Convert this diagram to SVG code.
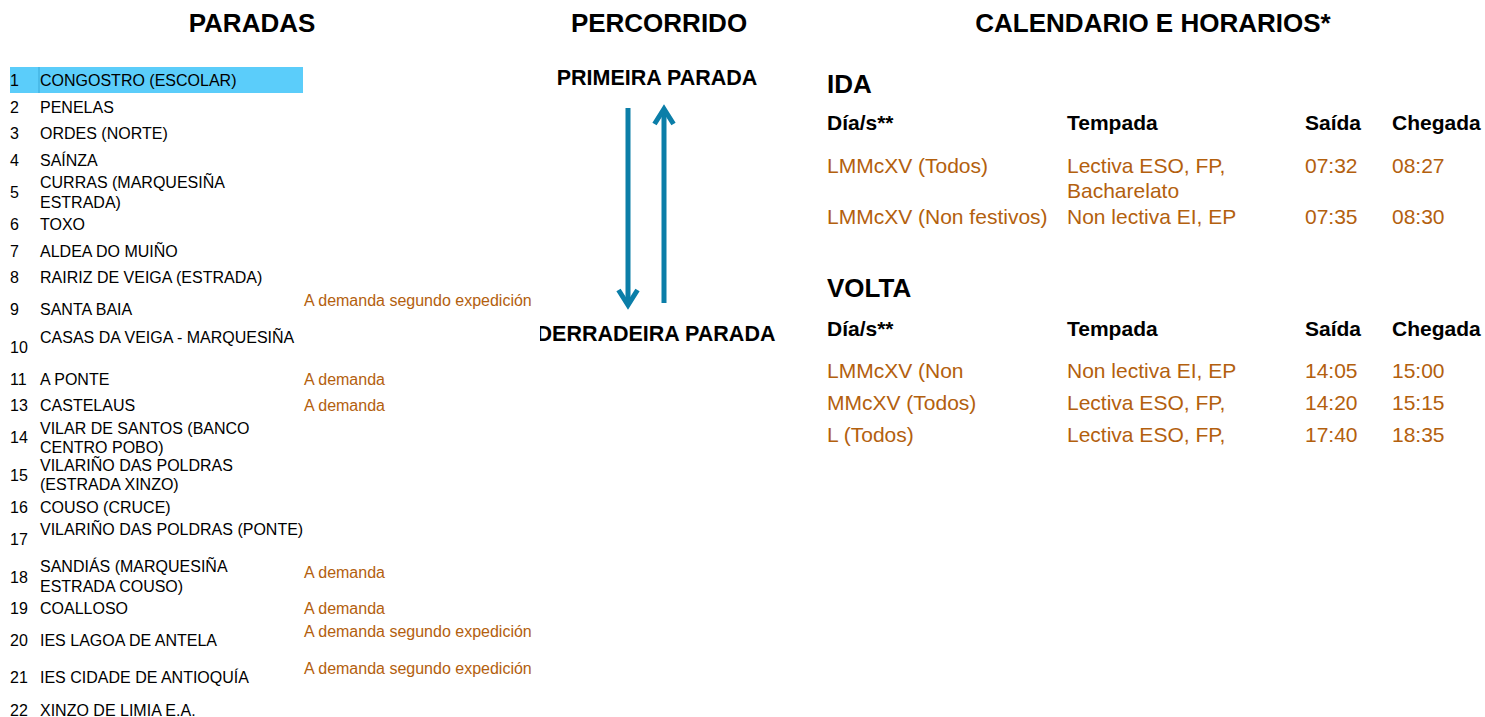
<svg xmlns="http://www.w3.org/2000/svg" width="1485" height="717" viewBox="0 0 1485 717">
<style>
text{font-family:"Liberation Sans",Arial,sans-serif}
.h{font-size:26px;font-weight:bold;fill:#000;text-anchor:middle}
.s{font-size:16px;fill:#000}
.o{font-size:16px;fill:#B3600E}
.sub{font-size:21.5px;font-weight:bold;fill:#000}
.th{font-size:21px;font-weight:bold;fill:#000}
.td{font-size:21px;fill:#B3600E}
.sec{font-size:26px;font-weight:bold;fill:#000}
.arr{stroke:#0B7EA8;stroke-width:5;fill:none}
</style>
<defs>
<clipPath id="clipD"><rect x="540" y="300" width="260" height="60"/></clipPath>
</defs>
<rect width="1485" height="717" fill="#fff"/>
<g id="headers">
<text class="h" x="252" y="32">PARADAS</text>
<text class="h" x="659" y="32">PERCORRIDO</text>
<text class="h" x="1153" y="32">CALENDARIO E HORARIOS*</text>
</g>
<g id="paradas">
<rect x="10" y="67" width="293" height="26" fill="#5BCDFA"/>
<line x1="39" y1="67" x2="39" y2="93" stroke="#3BA9D8" stroke-width="1"/>
<text class="s" x="10" y="86">1</text><text class="s" x="40" y="86">CONGOSTRO (ESCOLAR)</text>
<text class="s" x="10" y="113">2</text><text class="s" x="40" y="113">PENELAS</text>
<text class="s" x="10" y="139">3</text><text class="s" x="40" y="139">ORDES (NORTE)</text>
<text class="s" x="10" y="166">4</text><text class="s" x="40" y="166">SAÍNZA</text>
<text class="s" x="10" y="198">5</text><text class="s" x="40" y="188">CURRAS (MARQUESIÑA</text><text class="s" x="40" y="208">ESTRADA)</text>
<text class="s" x="10" y="230">6</text><text class="s" x="40" y="230">TOXO</text>
<text class="s" x="10" y="257">7</text><text class="s" x="40" y="257">ALDEA DO MUIÑO</text>
<text class="s" x="10" y="283">8</text><text class="s" x="40" y="283">RAIRIZ DE VEIGA (ESTRADA)</text>
<text class="s" x="10" y="315">9</text><text class="s" x="40" y="315">SANTA BAIA</text><text class="o" x="304" y="306">A demanda segundo expedición</text>
<text class="s" x="10" y="353">10</text><text class="s" x="40" y="343">CASAS DA VEIGA - MARQUESIÑA</text>
<text class="s" x="10" y="385">11</text><text class="s" x="40" y="385">A PONTE</text><text class="o" x="304" y="385">A demanda</text>
<text class="s" x="10" y="411">13</text><text class="s" x="40" y="411">CASTELAUS</text><text class="o" x="304" y="411">A demanda</text>
<text class="s" x="10" y="443">14</text><text class="s" x="40" y="434">VILAR DE SANTOS (BANCO</text><text class="s" x="40" y="453">CENTRO POBO)</text>
<text class="s" x="10" y="481">15</text><text class="s" x="40" y="471">VILARIÑO DAS POLDRAS</text><text class="s" x="40" y="490">(ESTRADA XINZO)</text>
<text class="s" x="10" y="513">16</text><text class="s" x="40" y="513">COUSO (CRUCE)</text>
<text class="s" x="10" y="545">17</text><text class="s" x="40" y="535">VILARIÑO DAS POLDRAS (PONTE)</text>
<text class="s" x="10" y="583">18</text><text class="s" x="40" y="572">SANDIÁS (MARQUESIÑA</text><text class="s" x="40" y="592">ESTRADA COUSO)</text><text class="o" x="304" y="578">A demanda</text>
<text class="s" x="10" y="614">19</text><text class="s" x="40" y="614">COALLOSO</text><text class="o" x="304" y="614">A demanda</text>
<text class="s" x="10" y="646">20</text><text class="s" x="40" y="646">IES LAGOA DE ANTELA</text><text class="o" x="304" y="637">A demanda segundo expedición</text>
<text class="s" x="10" y="683">21</text><text class="s" x="40" y="683">IES CIDADE DE ANTIOQUÍA</text><text class="o" x="304" y="674">A demanda segundo expedición</text>
<text class="s" x="10" y="716">22</text><text class="s" x="40" y="716">XINZO DE LIMIA E.A.</text>
</g>
<g id="primeira">
<text class="sub" x="657" y="85" text-anchor="middle">PRIMEIRA PARADA</text>
</g>
<g id="derradeira" clip-path="url(#clipD)">
<text class="sub" x="656" y="341" text-anchor="middle">DERRADEIRA PARADA</text>
</g>
<g id="connectors">
<line class="arr" x1="628" y1="108" x2="628" y2="304"/>
<path class="arr" d="M618.5 290 L628 305 L637.5 290"/>
<line class="arr" x1="664" y1="303" x2="664" y2="109"/>
<path class="arr" d="M654.5 124 L664 109 L673.5 124"/>
</g>
<g id="ida">
<text class="sec" x="827" y="93">IDA</text>
<text class="th" x="827" y="130">Día/s**</text>
<text class="th" x="1067" y="130">Tempada</text>
<text class="th" x="1305" y="130">Saída</text>
<text class="th" x="1392" y="130">Chegada</text>
<text class="td" x="827" y="173">LMMcXV (Todos)</text>
<text class="td" x="1067" y="173">Lectiva ESO, FP,</text>
<text class="td" x="1067" y="198">Bacharelato</text>
<text class="td" x="1305" y="173">07:32</text>
<text class="td" x="1392" y="173">08:27</text>
<text class="td" x="827" y="224">LMMcXV (Non festivos)</text>
<text class="td" x="1067" y="224">Non lectiva EI, EP</text>
<text class="td" x="1305" y="224">07:35</text>
<text class="td" x="1392" y="224">08:30</text>
</g>
<g id="volta">
<text class="sec" x="827" y="297">VOLTA</text>
<text class="th" x="827" y="336">Día/s**</text>
<text class="th" x="1067" y="336">Tempada</text>
<text class="th" x="1305" y="336">Saída</text>
<text class="th" x="1392" y="336">Chegada</text>
<text class="td" x="827" y="378">LMMcXV (Non</text>
<text class="td" x="1067" y="378">Non lectiva EI, EP</text>
<text class="td" x="1305" y="378">14:05</text>
<text class="td" x="1392" y="378">15:00</text>
<text class="td" x="827" y="410">MMcXV (Todos)</text>
<text class="td" x="1067" y="410">Lectiva ESO, FP,</text>
<text class="td" x="1305" y="410">14:20</text>
<text class="td" x="1392" y="410">15:15</text>
<text class="td" x="827" y="442">L (Todos)</text>
<text class="td" x="1067" y="442">Lectiva ESO, FP,</text>
<text class="td" x="1305" y="442">17:40</text>
<text class="td" x="1392" y="442">18:35</text>
</g>
</svg>
